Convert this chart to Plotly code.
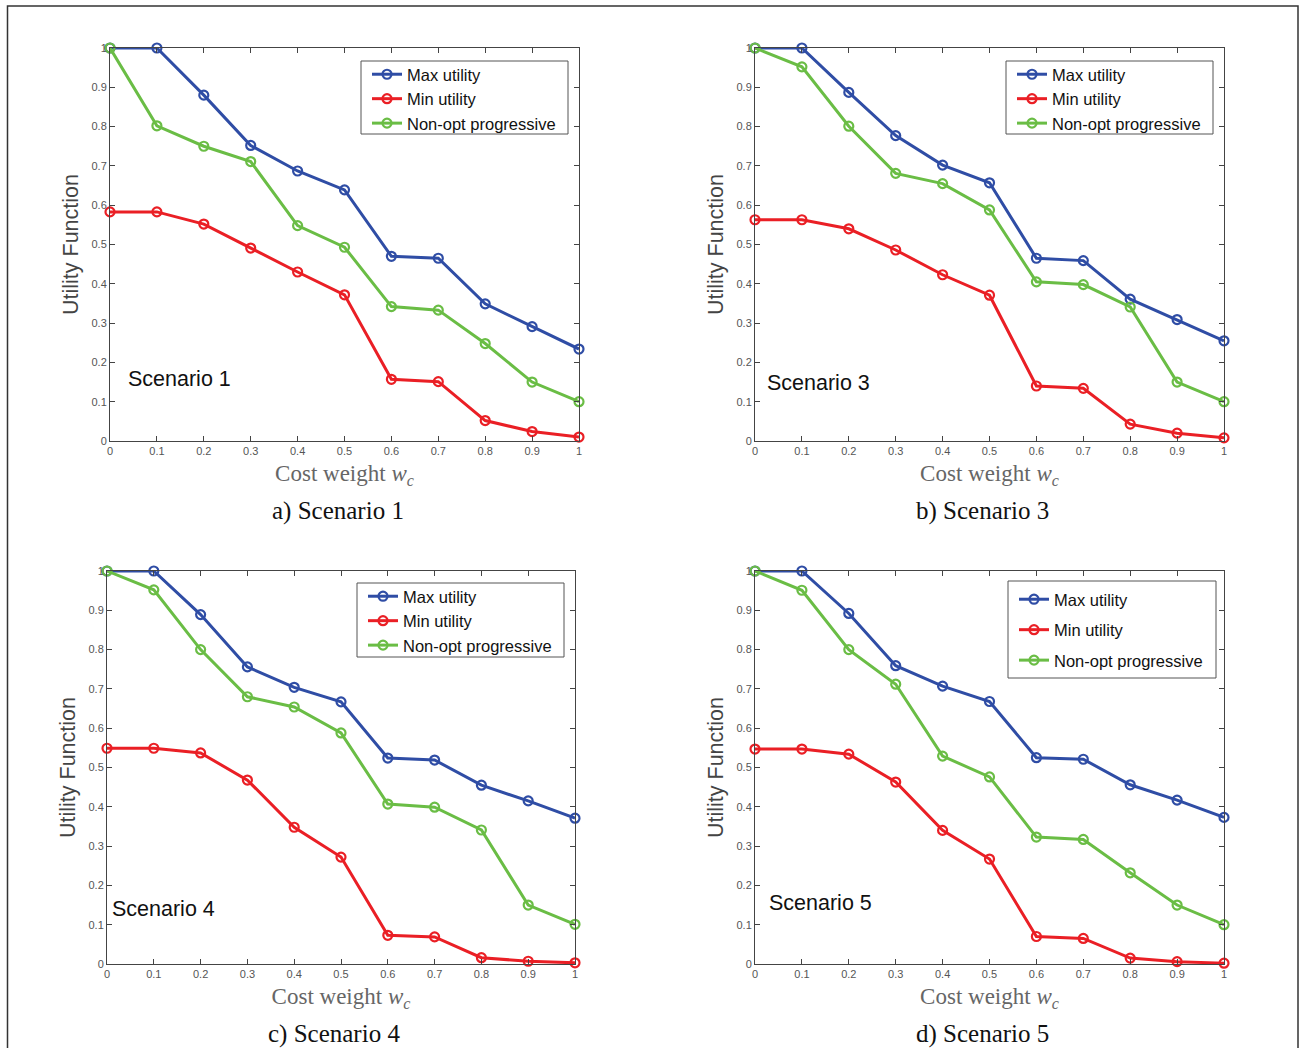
import plotly.graph_objects as go

W, H = 1305, 1048

cost_weight = [0, 0.1, 0.2, 0.3, 0.4, 0.5, 0.6, 0.7, 0.8, 0.9, 1.0]
tick_vals = [0, 0.1, 0.2, 0.3, 0.4, 0.5, 0.6, 0.7, 0.8, 0.9, 1.0]
tick_text = ["0", "0.1", "0.2", "0.3", "0.4", "0.5", "0.6", "0.7", "0.8", "0.9", "1"]

series_names = ["Max utility", "Min utility", "Non-opt progressive"]

# Scenario 1
s1_max = [1.0, 1.0, 0.88, 0.752, 0.687, 0.639, 0.470, 0.465, 0.349, 0.291, 0.234]
s1_min = [0.583, 0.583, 0.552, 0.491, 0.430, 0.372, 0.157, 0.151, 0.052, 0.024, 0.010]
s1_nonopt = [1.0, 0.802, 0.750, 0.711, 0.548, 0.493, 0.342, 0.333, 0.248, 0.150, 0.100]

# Scenario 3
s3_max = [1.0, 1.0, 0.887, 0.777, 0.702, 0.657, 0.465, 0.459, 0.361, 0.309, 0.255]
s3_min = [0.563, 0.563, 0.540, 0.486, 0.423, 0.371, 0.140, 0.134, 0.043, 0.020, 0.008]
s3_nonopt = [1.0, 0.952, 0.801, 0.681, 0.655, 0.588, 0.405, 0.398, 0.341, 0.150, 0.100]

# Scenario 4
s4_max = [1.0, 1.0, 0.889, 0.756, 0.704, 0.667, 0.524, 0.519, 0.455, 0.415, 0.371]
s4_min = [0.549, 0.549, 0.537, 0.468, 0.348, 0.272, 0.073, 0.069, 0.016, 0.007, 0.003]
s4_nonopt = [1.0, 0.952, 0.800, 0.680, 0.654, 0.588, 0.407, 0.399, 0.341, 0.150, 0.101]

# Scenario 5
s5_max = [1.0, 1.0, 0.892, 0.759, 0.707, 0.668, 0.525, 0.521, 0.456, 0.417, 0.373]
s5_min = [0.547, 0.547, 0.534, 0.463, 0.340, 0.267, 0.070, 0.065, 0.015, 0.006, 0.002]
s5_nonopt = [1.0, 0.951, 0.800, 0.712, 0.529, 0.476, 0.323, 0.317, 0.232, 0.150, 0.100]

panel_labels = ["Scenario 1", "Scenario 3", "Scenario 4", "Scenario 5"]
captions = ["a) Scenario 1", "b) Scenario 3", "c) Scenario 4", "d) Scenario 5"]

colors = ["#2F4DA5", "#EA1F25", "#6ABD45"]

# box: (left, top, right, bottom) in px ; row1: first legend row centre y
panels = [
    dict(data=[s1_max, s1_min, s1_nonopt], px=(110, 579), py=(48, 441),
         box=(361, 61, 568, 134), row1=73, lab=(0.034, 0.158), gap=0),
    dict(data=[s3_max, s3_min, s3_nonopt], px=(755, 1224), py=(48, 441),
         box=(1006, 61, 1213, 134), row1=73, lab=(0.021, 0.148), gap=0),
    dict(data=[s4_max, s4_min, s4_nonopt], px=(107, 575), py=(571, 964),
         box=(357, 583, 564, 657), row1=595, lab=(0.007, 0.140), gap=0),
    dict(data=[s5_max, s5_min, s5_nonopt], px=(755, 1224), py=(571, 964),
         box=(1008, 581, 1216, 678), row1=598, lab=(0.026, 0.155), gap=6),
]

fig = go.Figure()
layout = dict(
    width=W, height=H, margin=dict(l=0, r=0, t=0, b=0, autoexpand=False),
    paper_bgcolor="white", plot_bgcolor="white",
    font=dict(family="Liberation Sans, Arial, sans-serif", color="#222"),
    showlegend=True,
)
annotations = []
shapes = []

for i, p in enumerate(panels):
    k = "" if i == 0 else str(i + 1)
    xa, ya = "x" + k, "y" + k
    leg = "legend" + k
    for j in range(3):
        fig.add_trace(go.Scatter(
            x=cost_weight, y=p["data"][j], mode="lines+markers",
            name=series_names[j], xaxis=xa, yaxis=ya, legend=leg,
            legendgroup=f"g{i}_{j}",
            line=dict(color=colors[j], width=3),
            marker=dict(symbol="circle-open", size=9, color=colors[j],
                        line=dict(width=2.2, color=colors[j])),
            cliponaxis=False,
        ))
    x0, x1 = p["px"]
    y0, y1 = p["py"]
    axis_common = dict(
        showgrid=False, zeroline=False, showline=True, linecolor="#444",
        linewidth=1, mirror="ticks", ticks="inside", ticklen=5,
        tickcolor="#444", automargin=False,
        tickfont=dict(size=11, color="#555", family="Liberation Sans, Arial"),
    )
    layout["xaxis" + k] = dict(
        axis_common, domain=[x0 / W, x1 / W], range=[0, 1],
        tickvals=tick_vals, ticktext=tick_text, anchor=ya,
        title=dict(text="Cost weight <i>w<sub>c</sub></i>", standoff=8,
                   font=dict(family="Liberation Serif, Times New Roman, serif",
                             size=23, color="#666")),
    )
    layout["yaxis" + k] = dict(
        axis_common, domain=[1 - y1 / H, 1 - y0 / H], range=[0, 1],
        tickvals=tick_vals, ticktext=tick_text, anchor=xa,
        title=dict(text="Utility Function", standoff=6,
                   font=dict(family="Liberation Sans, Arial", size=21.5,
                             color="#444")),
    )
    bl, bt, br, bb = p["box"]
    shapes.append(dict(type="rect", xref="paper", yref="paper",
                       x0=bl / W, x1=br / W, y0=1 - bb / H, y1=1 - bt / H,
                       line=dict(color="#555", width=1), fillcolor="white",
                       layer="below"))
    layout[leg] = dict(
        x=(bl + 6) / W, y=1 - (p["row1"] - 16) / H, xanchor="left", yanchor="top",
        xref="paper", yref="paper",
        bgcolor="rgba(0,0,0,0)", borderwidth=0,
        font=dict(size=16.5, color="#111", family="Liberation Sans, Arial"),
        traceorder="grouped", tracegroupgap=p["gap"],
        itemclick=False, itemdoubleclick=False,
    )
    annotations.append(dict(
        x=p["lab"][0], y=p["lab"][1], xref=xa, yref=ya,
        text=panel_labels[i], showarrow=False, xanchor="left", yanchor="middle",
        font=dict(size=21.5, color="#111", family="Liberation Sans, Arial"),
    ))
    annotations.append(dict(
        x=(x0 + x1) / 2 / W - 0.005, y=1 - (y1 + 70) / H, xref="paper", yref="paper",
        text=captions[i], showarrow=False, xanchor="center", yanchor="middle",
        font=dict(size=25, color="#111",
                  family="Liberation Serif, Times New Roman, serif"),
    ))

shapes.append(dict(type="rect", xref="paper", yref="paper",
                   x0=7.5 / W, x1=1298 / W, y0=-0.05, y1=1 - 6 / H,
                   line=dict(color="#333", width=1.5), fillcolor="rgba(0,0,0,0)",
                   layer="below"))

layout["annotations"] = annotations
layout["shapes"] = shapes
fig.update_layout(**layout)

fig.write_html("out.html")
